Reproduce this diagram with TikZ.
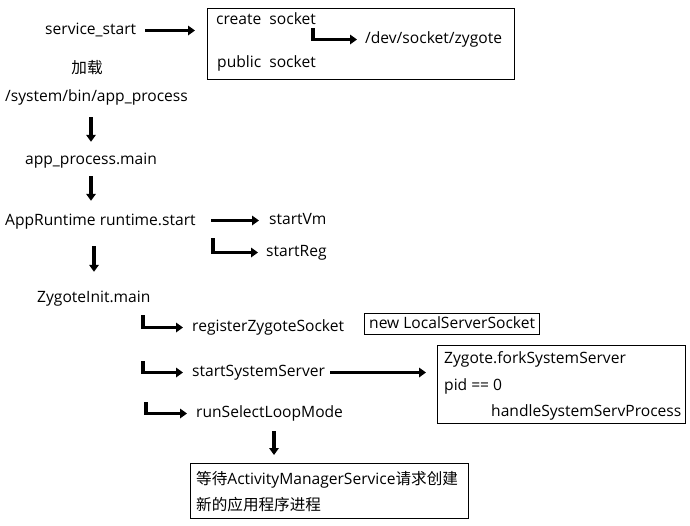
\documentclass[tikz,border=0pt]{standalone}
\usepackage{fontspec}
\setmainfont{Open Sans}
\newfontfamily\cjk{Noto Sans CJK SC}
\usetikzlibrary{arrows.meta}
\begin{document}
\begin{tikzpicture}[x=1pt,y=-1pt,
  txt/.style={anchor=west,inner sep=0pt,text height=10pt,text depth=3pt,yshift=-1.5pt,font=\fontsize{15.6}{18}\selectfont},
  arr/.style={line width=3.2pt,-{Triangle[length=7pt,width=9.5pt]}},
  frame/.style={draw,line width=1.1pt,inner sep=0pt,anchor=north west}]
\useasboundingbox[fill=white] (0,0) rectangle (690,525);
% boxes
\node[frame,minimum width=307pt,minimum height=71pt] (box1) at (207,8) {};
\node[frame,minimum width=175pt,minimum height=21pt] (lss) at (364,313) {};
\node[frame,minimum width=248pt,minimum height=78pt] (zb) at (437,345) {};
\node[frame,minimum width=278pt,minimum height=55pt] (wb) at (190,463) {};
% texts
\node[txt] (ss) at (45,29) {service\_start};
\node[txt] (cs) at (216,19) {create\ \ socket};
\node[txt] (dev) at (365,38) {/dev/socket/zygote};
\node[txt] (ps) at (217,62) {public\ \ socket};
\node[txt,anchor=center] (jz) at (87,68) {\cjk 加载};
\node[txt] (sys) at (5,96) {/system/bin/app\_process};
\node[txt] (apm) at (25,159) {app\_process.main};
\node[txt] (ar) at (5,220) {AppRuntime runtime.start};
\node[txt] (vm) at (269,219) {startVm};
\node[txt] (sreg) at (266,251) {startReg};
\node[txt] (zi) at (37,297) {ZygoteInit.main};
\node[txt] (rzs) at (192,326) {registerZygoteSocket};
\node[txt] (lsst) at (369,323) {new LocalServerSocket};
\node[txt] (sss) at (192,371) {startSystemServer};
\node[txt] (zf) at (444,358) {Zygote.forkSystemServer};
\node[txt] (pid) at (444,385) {pid == 0};
\node[txt] (hs) at (491,411) {handleSystemServProcess};
\node[txt] (rsl) at (196,412) {runSelectLoopMode};
\node[txt] (w1) at (196,479) {{\cjk 等待}ActivityManagerService{\cjk 请求创建}};
\node[txt] (w2) at (196,505) {\cjk 新的应用程序进程};
% coordinates for elbow starts
\coordinate (c1) at (313,28);
\coordinate (c2) at (213,238);
\coordinate (c3) at (143,315);
\coordinate (c4) at (143,361);
\coordinate (c5) at (146,402);
\coordinate (sse) at (sss.east);
% connectors
\draw[arr] (ss.east -| 145,0) -- ([xshift=-12pt]box1.west |- ss.east);
\draw[arr] (c1) |- ([xshift=-8pt]dev.west);
\draw[arr,shorten <=13pt,shorten >=12pt] (sys.south -| 91,0) -- (apm.north -| 91,0);
\draw[arr,shorten <=9pt,shorten >=14pt] (apm.south -| 91,0) -- (ar.north -| 91,0);
\draw[arr] (vm.west -| 211,0) -- ([xshift=-10pt]vm.west);
\draw[arr] (c2) |- ([xshift=-8pt]sreg.west);
\draw[arr,shorten <=18pt,shorten >=20pt] (ar.south -| 94,0) -- (zi.north -| 94,0);
\draw[arr] (c3) |- ([xshift=-9pt]rzs.west);
\draw[arr] (c4) |- ([xshift=-9pt]sss.west);
\draw[arr] (c5) |- ([xshift=-9pt]rsl.west);
\draw[arr] (sse -| 330,0) -- ([xshift=-11pt]zb.west |- sse);
\draw[arr,shorten <=11pt,shorten >=8pt] (rsl.south -| 274,0) -- (wb.north -| 274,0);
\end{tikzpicture}
\end{document}
